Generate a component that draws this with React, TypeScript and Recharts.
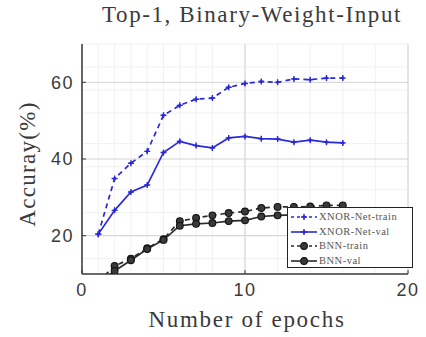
import { CartesianGrid, Line, LineChart, XAxis, YAxis } from "recharts";

const epochs = [1, 2, 3, 4, 5, 6, 7, 8, 9, 10, 11, 12, 13, 14, 15, 16];
const xnorTrain = [20.4, 34.9, 38.9, 42.0, 51.4, 54.0, 55.6, 55.9, 58.7, 59.7, 60.2, 60.0, 60.9, 60.7, 61.1, 61.1];
const xnorVal = [20.4, 26.6, 31.4, 33.2, 41.7, 44.6, 43.5, 42.9, 45.5, 45.9, 45.3, 45.2, 44.4, 44.9, 44.4, 44.2];
const bnnTrain = [8.0, 12.1, 14.0, 16.7, 19.1, 23.8, 24.6, 25.3, 25.9, 26.3, 27.2, 27.5, 27.5, 27.6, 27.9, 27.9];
const bnnVal = [7.5, 10.8, 13.6, 16.5, 18.9, 22.6, 23.1, 23.3, 23.8, 24.0, 25.0, 25.3, 25.4, 25.5, 25.5, 25.6];

const xTicks = [0, 10, 20];
const yTicks = [20, 40, 60];
const xMinor = [0, 1, 2, 3, 4, 5, 6, 7, 8, 9, 10, 11, 12, 13, 14, 15, 16, 17, 18, 19, 20];
const yMinor = [10, 12, 14, 16, 18, 20, 22, 24, 26, 28, 30, 32, 34, 36, 38, 40, 42, 44, 46, 48, 50, 52, 54, 56, 58, 60, 62, 64, 66, 68, 70];

const rows = epochs.map((e, i) => ({
  epoch: e,
  xnorTrain: xnorTrain[i],
  xnorVal: xnorVal[i],
  bnnTrain: bnnTrain[i],
  bnnVal: bnnVal[i],
}));

const BLUE = "#2a2ad8";
const DARK = "#2b2b2b";
const TEXT = "#3a3a3a";
const serif = "'Liberation Serif', 'Times New Roman', serif";
const sans = "'Liberation Sans', Arial, sans-serif";

function StarDot(props: any) {
  const { cx, cy } = props;
  if (cx == null || cy == null) return null;
  return (
    <g>
      <path d={`M${cx - 3},${cy}L${cx + 3},${cy}M${cx},${cy - 3}L${cx},${cy + 3}`} stroke={BLUE} strokeWidth={1.4} />
      <path d={`M${cx - 2},${cy}L${cx},${cy - 2}L${cx + 2},${cy}L${cx},${cy + 2}Z`} fill={BLUE} />
    </g>
  );
}

function CircleDot(props: any) {
  const { cx, cy } = props;
  if (cx == null || cy == null) return null;
  return <circle cx={cx} cy={cy} r={3.4} fill="#3a3a3a" stroke="#111" strokeWidth={1.1} />;
}

const legendItems = [
  { name: "XNOR-Net-train", color: BLUE, dash: "3 3", kind: "star" },
  { name: "XNOR-Net-val", color: BLUE, dash: undefined, kind: "star" },
  { name: "BNN-train", color: DARK, dash: "3 3", kind: "circle" },
  { name: "BNN-val", color: DARK, dash: undefined, kind: "circle" },
];

function LegendBox() {
  return (
    <div
      style={{
        position: "absolute",
        left: 287,
        top: 207,
        width: 126,
        height: 61,
        background: "#fff",
        border: "1.5px solid #222",
        padding: "2px 0 0 2px",
        boxSizing: "border-box",
      }}
    >
      {legendItems.map((it) => (
        <div key={it.name} style={{ display: "flex", alignItems: "center", height: 14.5 }}>
          <svg width={28} height={10} style={{ flex: "none" }}>
            <line x1={1} y1={5} x2={27} y2={5} stroke={it.color} strokeWidth={1.6} strokeDasharray={it.dash} />
            {it.kind === "star" ? <StarDot cx={14} cy={5} /> : <CircleDot cx={14} cy={5} />}
          </svg>
          <span
            style={{
              fontFamily: serif,
              fontSize: 10.5,
              letterSpacing: 0.5,
              color: "#555",
              marginLeft: 1,
              whiteSpace: "nowrap",
              lineHeight: "12px",
            }}
          >
            {it.name}
          </span>
        </div>
      ))}
    </div>
  );
}

export default function App() {
  return (
    <div style={{ position: "relative", width: 426, height: 337, background: "#fff", overflow: "hidden" }}>
      <style>{"body{margin:0}"}</style>
      <LineChart width={426} height={337} data={rows} margin={{ top: 44, right: 18, bottom: 0, left: 32 }}>
        <CartesianGrid stroke="#eeeeee" strokeWidth={0.8} horizontalValues={yMinor} verticalValues={xMinor} />
        <CartesianGrid stroke="#d2d2d2" strokeWidth={1} horizontalValues={yTicks} verticalValues={xTicks} />
        <XAxis
          dataKey="epoch"
          type="number"
          domain={[0, 20]}
          ticks={xTicks}
          height={63}
          axisLine={{ stroke: TEXT, strokeWidth: 1.5 }}
          tickLine={{ stroke: TEXT }}
          tickSize={-4}
          tickMargin={13}
          tick={{ fill: TEXT, fontSize: 18, fontFamily: sans, letterSpacing: 1.5 }}
          allowDataOverflow
        />
        <YAxis
          type="number"
          domain={[10, 70]}
          ticks={yTicks}
          width={50}
          axisLine={{ stroke: TEXT, strokeWidth: 1.5 }}
          tickLine={{ stroke: TEXT }}
          tickSize={-4}
          tickMargin={12}
          tick={{ fill: TEXT, fontSize: 18, fontFamily: sans, letterSpacing: 1.5 }}
          allowDataOverflow
        />
        <Line
          dataKey="xnorTrain"
          stroke={BLUE}
          strokeWidth={1.7}
          strokeDasharray="5 4"
          dot={<StarDot />}
          isAnimationActive={false}
        />
        <Line dataKey="xnorVal" stroke={BLUE} strokeWidth={1.7} dot={<StarDot />} isAnimationActive={false} />
        <Line
          dataKey="bnnTrain"
          stroke={DARK}
          strokeWidth={1.7}
          strokeDasharray="5 4"
          dot={<CircleDot />}
          isAnimationActive={false}
        />
        <Line dataKey="bnnVal" stroke={DARK} strokeWidth={1.7} dot={<CircleDot />} isAnimationActive={false} />
      </LineChart>
      <div
        style={{
          position: "absolute",
          left: 252,
          top: 2,
          transform: "translateX(-50%)",
          fontFamily: serif,
          fontSize: 23,
          letterSpacing: 1.6,
          color: TEXT,
          whiteSpace: "nowrap",
        }}
      >
        Top-1, Binary-Weight-Input
      </div>
      <div
        style={{
          position: "absolute",
          left: 247,
          top: 307,
          transform: "translateX(-50%)",
          fontFamily: serif,
          fontSize: 23,
          letterSpacing: 1.7,
          color: TEXT,
          whiteSpace: "nowrap",
        }}
      >
        Number of epochs
      </div>
      <div
        style={{
          position: "absolute",
          left: 28,
          top: 164,
          transform: "translate(-50%, -50%) rotate(-90deg)",
          fontFamily: serif,
          fontSize: 23,
          letterSpacing: 1.3,
          color: TEXT,
          whiteSpace: "nowrap",
        }}
      >
        Accuray(%)
      </div>
      <LegendBox />
    </div>
  );
}
